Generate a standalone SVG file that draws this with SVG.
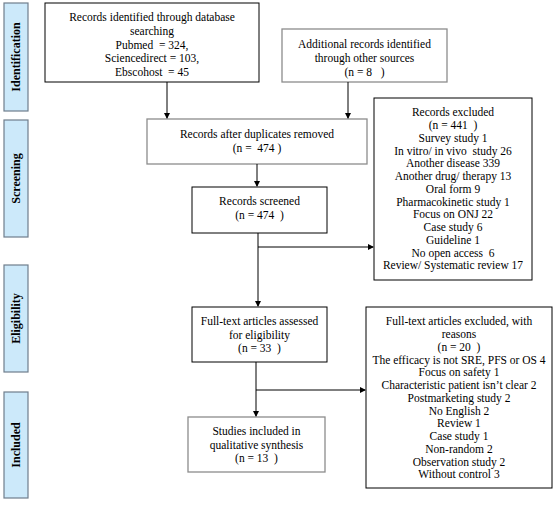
<svg xmlns="http://www.w3.org/2000/svg" width="560" height="506" viewBox="0 0 560 506">
<style>
text{font-family:"Liberation Serif","Times New Roman",serif;font-size:11.5px;fill:#000;text-anchor:middle;white-space:pre}
.side rect{fill:#cce9fa;stroke:#6f7e8c;stroke-width:1.2}
.side text{font-weight:bold;font-size:12px}
.box{fill:#fff;stroke:#000;stroke-width:1}
.gbox{fill:#fff;stroke:#8c8c8c;stroke-width:1.3}
.conn line,.conn polyline{stroke:#000;stroke-width:1;fill:none}
</style>
<defs>
<marker id="ah" markerWidth="6" markerHeight="6" refX="5" refY="3" orient="auto" markerUnits="userSpaceOnUse">
<path d="M0,0 L6,3 L0,6 Z" fill="#000"/>
</marker>
</defs>
<g id="side-identification" class="side"><rect x="4" y="3" width="24" height="108"/><text transform="translate(20,57) rotate(-90)">Identification</text></g>
<g id="side-screening" class="side"><rect x="4" y="120" width="24" height="117"/><text transform="translate(20,178.5) rotate(-90)">Screening</text></g>
<g id="side-eligibility" class="side"><rect x="4" y="265" width="24" height="107"/><text transform="translate(20,318.5) rotate(-90)">Eligibility</text></g>
<g id="side-included" class="side"><rect x="4" y="392" width="24" height="106"/><text transform="translate(20,445) rotate(-90)">Included</text></g>

<g id="n-database"><rect class="box" x="45" y="3" width="214" height="79"/>
<text x="152" y="21">Records identified through database</text>
<text x="152" y="35">searching</text>
<text x="152" y="48.5">Pubmed  = 324,</text>
<text x="152" y="62">Sciencedirect = 103,</text>
<text x="152" y="76">Ebscohost  = 45</text></g>

<g id="n-additional"><rect class="gbox" x="282" y="29" width="165" height="53"/>
<text x="364.5" y="48">Additional records identified</text>
<text x="364.5" y="62">through other sources</text>
<text x="364.5" y="76">(n = 8   )</text></g>

<g id="n-duplicates"><rect class="gbox" x="147" y="119" width="220" height="45"/>
<text x="257" y="138">Records after duplicates removed</text>
<text x="257" y="152">(n =  474 )</text></g>

<g id="n-screened"><rect class="box" x="192" y="187" width="135" height="46"/>
<text x="259.5" y="205">Records screened</text>
<text x="259.5" y="219">(n = 474  )</text></g>

<g id="n-excluded1"><rect class="box" x="374" y="98" width="158" height="182"/>
<text x="453" y="116">Records excluded</text>
<text x="453" y="129">(n = 441  )</text>
<text x="453" y="142">Survey study 1</text>
<text x="453" y="154.5">In vitro/ in vivo  study 26</text>
<text x="453" y="167">Another disease 339</text>
<text x="453" y="180">Another drug/ therapy 13</text>
<text x="453" y="193">Oral form 9</text>
<text x="453" y="205.5">Pharmacokinetic study 1</text>
<text x="453" y="218">Focus on ONJ 22</text>
<text x="453" y="231">Case study 6</text>
<text x="453" y="244">Guideline 1</text>
<text x="453" y="256.5">No open access  6</text>
<text x="453" y="269">Review/ Systematic review 17</text></g>

<g id="n-fulltext"><rect class="box" x="192" y="307" width="135" height="55"/>
<text x="259.5" y="325">Full-text articles assessed</text>
<text x="259.5" y="338.5">for eligibility</text>
<text x="259.5" y="352">(n = 33  )</text></g>

<g id="n-excluded2"><rect class="box" x="366" y="307" width="186" height="181"/>
<text x="459" y="325">Full-text articles excluded, with</text>
<text x="459" y="338">reasons</text>
<text x="459" y="351">(n = 20  )</text>
<text x="459" y="363.5">The efficacy is not SRE, PFS or OS 4</text>
<text x="459" y="376">Focus on safety 1</text>
<text x="459" y="389">Characteristic patient isn’t clear 2</text>
<text x="459" y="402">Postmarketing study 2</text>
<text x="459" y="414.5">No English 2</text>
<text x="459" y="427">Review 1</text>
<text x="459" y="440">Case study 1</text>
<text x="459" y="453">Non-random 2</text>
<text x="459" y="465.5">Observation study 2</text>
<text x="459" y="478">Without control 3</text></g>

<g id="n-included"><rect class="gbox" x="188" y="417" width="137" height="55"/>
<text x="256.5" y="435">Studies included in</text>
<text x="256.5" y="448.5">qualitative synthesis</text>
<text x="256.5" y="462">(n = 13  )</text></g>

<g id="connectors" class="conn">
<line x1="167" y1="82" x2="167" y2="118" marker-end="url(#ah)"/>
<line x1="348" y1="82" x2="348" y2="118" marker-end="url(#ah)"/>
<line x1="257" y1="164" x2="257" y2="186" marker-end="url(#ah)"/>
<line x1="258" y1="233" x2="258" y2="306" marker-end="url(#ah)"/>
<line x1="258" y1="247" x2="373" y2="247" marker-end="url(#ah)"/>
<line x1="256" y1="362" x2="256" y2="416" marker-end="url(#ah)"/>
<line x1="256" y1="390" x2="365" y2="390" marker-end="url(#ah)"/>
</g>
</svg>
